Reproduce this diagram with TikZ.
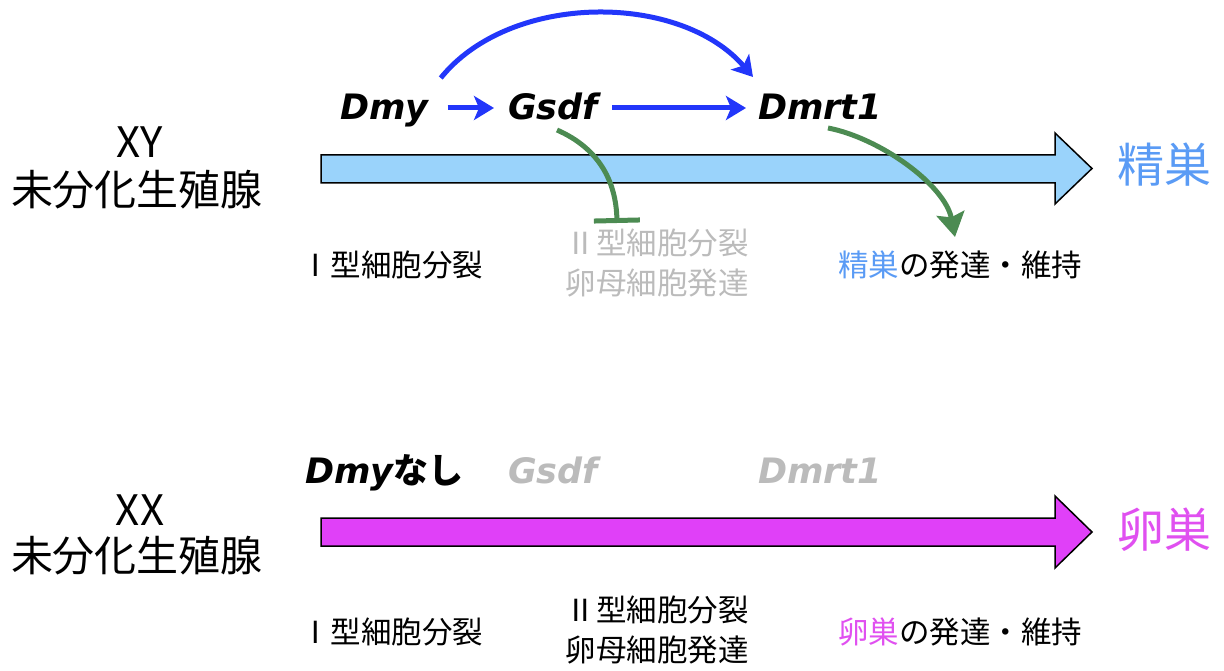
\documentclass[tikz,border=0pt]{standalone}
\usepackage{fontspec}
\setmainfont{Noto Sans CJK JP}
\newfontfamily\jp{Noto Sans CJK JP}
\newfontfamily\gene{DejaVu Sans}
\usetikzlibrary{arrows.meta,calc}
\definecolor{barblue}{HTML}{9AD3FB}
\definecolor{barmag}{HTML}{E040F8}
\definecolor{tblue}{HTML}{5A9BF5}
\definecolor{tmag}{HTML}{E050F0}
\definecolor{gblue}{HTML}{2236FA}
\definecolor{ggreen}{HTML}{4C8B52}
\definecolor{lgray}{HTML}{BBBBBB}
\tikzset{
  genetxt/.style={inner sep=0pt, anchor=base west, font=\gene\bfseries\itshape\fontsize{35}{40}\selectfont},
  side/.style={inner sep=0pt, align=center, font=\jp\fontsize{42}{48}\selectfont},
  outcome/.style={inner sep=0pt, anchor=west, font=\jp\fontsize{47}{56}\selectfont},
  lbl/.style={inner sep=0pt, align=center, font=\jp\fontsize{30.5}{40}\selectfont},
  bigarrow/.style={draw=black, line width=1.5pt, line join=miter},
  act/.style={gblue, line width=5pt, -{Stealth[length=20pt,width=24pt,inset=5pt]}},
  inh/.style={ggreen, line width=5pt, -{Bar[width=46pt]}},
  gact/.style={ggreen, line width=5pt, -{Stealth[length=24pt,width=28pt,inset=4pt]}}
}
\begin{document}
\begin{tikzpicture}[x=1pt,y=-1pt]
\useasboundingbox (0,0) rectangle (1224,671);
% ---------- XY ----------
\node[side] (xy) at (140,142) {XY};
\node[side] (xyg) at (137,190) {未分化生殖腺};
\path[bigarrow, fill=barblue] (321,155) -- (1055,155) -- (1055,133) -- (1092,168.5) -- (1055,204) -- (1055,183) -- (321,183) -- cycle;
\node[outcome, text=tblue] (testis) at (1117,165) {精巣};

\node[genetxt] (dmy) at (340,120) {Dmy};
\node[genetxt] (gsdf) at (508,120) {Gsdf};
\node[genetxt] (dmrt) at (758,120) {Dmrt1};

\draw[act] ($(dmy.base east)+(19,-12)$) -- ($(gsdf.base west)+(-14,-12)$);
\draw[act] ($(gsdf.base east)+(14,-12)$) -- ($(dmrt.base west)+(-12,-12)$);
\draw[act] ($(dmy.base east)+(12,-42)$) .. controls (510,-8) and (680,-8) .. ($(dmrt.base west)+(-5,-43)$);

\coordinate (inhend) at (617,223);
\coordinate (devend) at (955,237);
\draw[inh] ($(gsdf.base west)+(49,10)$) .. controls (598,148) and (616,180) .. (inhend);
\draw[gact] ($(dmrt.base west)+(70,8)$) .. controls (880,138) and (945,185) .. (devend);

\node[lbl, anchor=west] (t1) at (300,265) {Ⅰ型細胞分裂};
\node[lbl, text=lgray] (t2) at (657,263) {Ⅱ型細胞分裂\\卵母細胞発達};
\node[lbl, anchor=west] (t3) at (838,265) {\textcolor{tblue}{精巣}の発達・維持};

% ---------- XX ----------
\node[side] (xx) at (140,510) {XX};
\node[side] (xxg) at (137,556) {未分化生殖腺};
\path[bigarrow, fill=barmag] (321,518) -- (1055,518) -- (1055,496) -- (1092,532) -- (1055,568) -- (1055,546) -- (321,546) -- cycle;
\node[outcome, text=tmag] (ovary) at (1117,530) {卵巣};

\node[genetxt] (dmy2) at (305,483) {Dmy{\jp\bfseries なし}};
\node[genetxt, text=lgray] (gsdf2) at (508,483) {Gsdf};
\node[genetxt, text=lgray] (dmrt2) at (758,483) {Dmrt1};

\node[lbl, anchor=west] (b1) at (300,632) {Ⅰ型細胞分裂};
\node[lbl] (b2) at (657,630) {Ⅱ型細胞分裂\\卵母細胞発達};
\node[lbl, anchor=west] (b3) at (838,632) {\textcolor{tmag}{卵巣}の発達・維持};
\end{tikzpicture}
\end{document}
